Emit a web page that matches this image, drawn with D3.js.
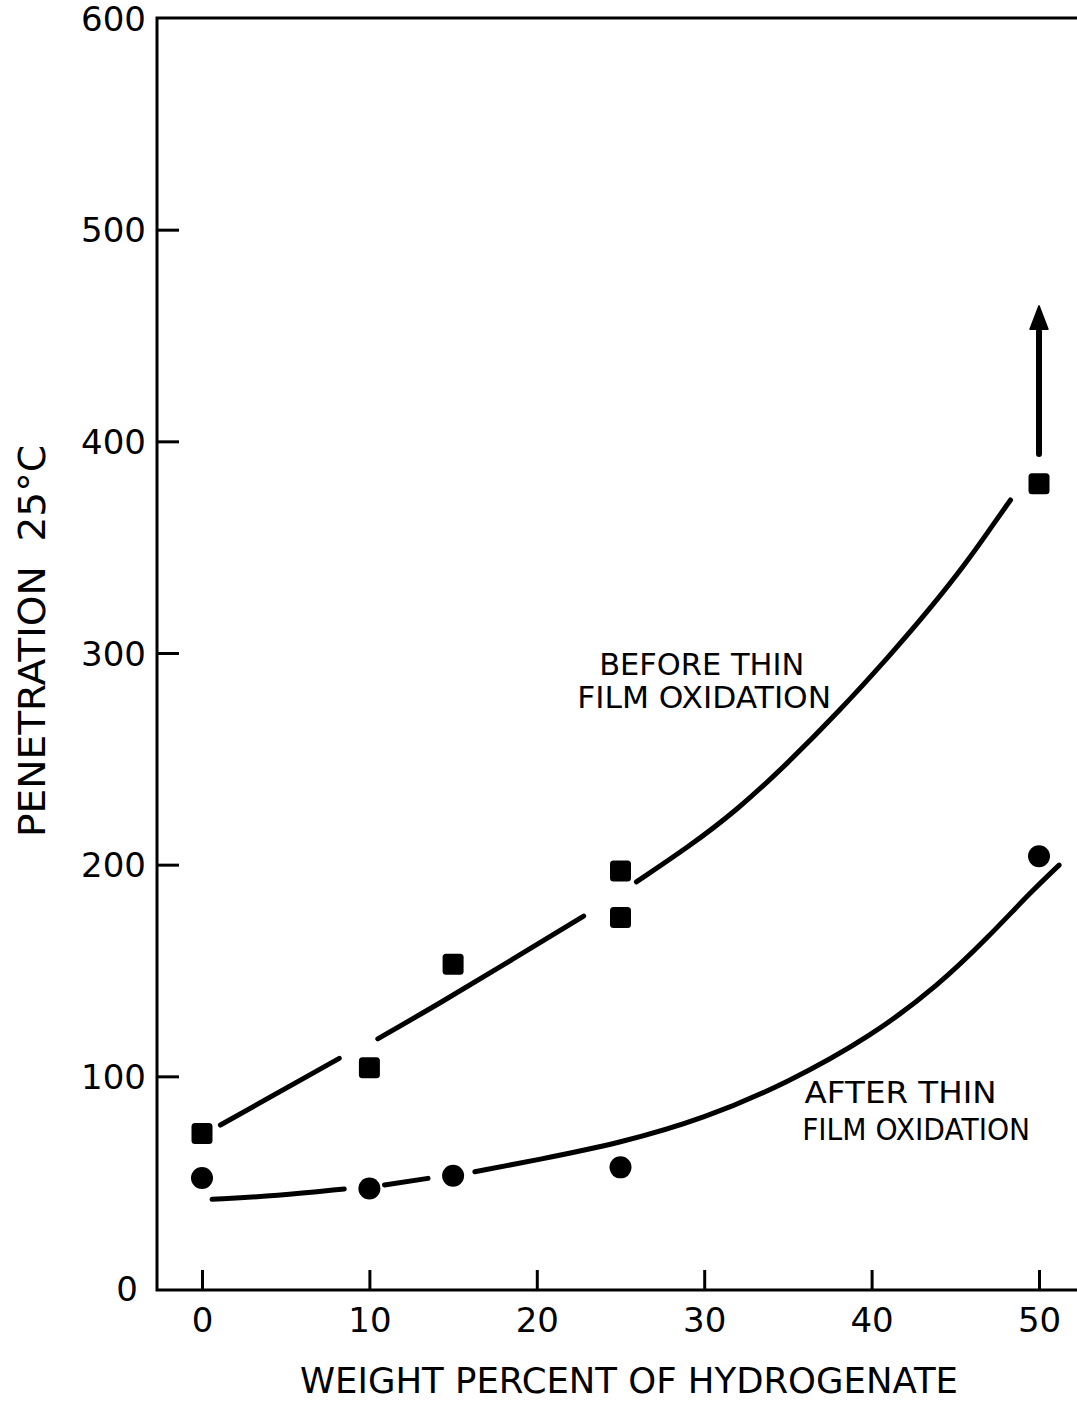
<!DOCTYPE html>
<html>
<head>
<meta charset="utf-8">
<script src="https://cdn.jsdelivr.net/npm/d3@7"></script>
<style>
  html, body { margin: 0; padding: 0; background: #fff; }
  svg { display: block; }
  text { font-family: "DejaVu Sans", sans-serif; fill: #000; }
</style>
</head>
<body>
<svg id="chart" width="1077" height="1403"></svg>
<script>
// Penetration at 25 °C versus hydrogenate content
const xTicks = [0, 10, 20, 30, 40, 50];
const yTicks = [0, 100, 200, 300, 400, 500, 600];

// measured points, before thin film oxidation (squares)
const beforePct = [0, 10, 15, 25, 25, 50];
const beforePen = [73, 104, 153, 197, 175, 380];

// measured points, after thin film oxidation (circles)
const afterPct = [0, 10, 15, 25, 50];
const afterPen = [52, 47, 53, 57, 204];

// hand-fitted trend curves, drawn in pieces with the pen lifted near the markers
const beforeFit = [
  [[1.1, 77], [8.2, 108.5]],
  [[10.5, 117.7], [14.2, 134.5], [18.5, 155], [22.8, 175.7]],
  [[25.95, 191.9], [29, 208], [32, 226], [35, 248], [38, 272], [41, 298], [43.5, 321], [45.7, 343], [47.2, 360], [48.3, 372.3]]
];
const afterFit = [
  [[0.6, 41.9], [4.5, 43.5], [8.5, 46.8]],
  [[10.9, 48.7], [13.5, 51.8]],
  [[16.3, 54.9], [20, 60.5], [25, 68.5], [30, 80], [35, 97], [40, 119], [44, 143], [47, 166], [49.5, 187], [51.2, 199.8]]
];

// the 50 % sample was beyond the scale: arrow upward from the plotted value
const arrowPct = 50;
const arrowFrom = 394;
const arrowTo = 464;

const svg = d3.select("#chart");

const x = d3.scaleLinear().domain([0, 50]).range([202, 1039]);
const y = d3.scaleLinear().domain([0, 600]).range([1288, 18]);

const frameLeft = 157, frameRight = 1077, frameBottom = y(0) + 2, frameTop = y(600);

// frame: left, top and bottom lines (open on the right)
svg.append("path")
  .attr("d", `M${frameRight},${frameTop}H${frameLeft}V${frameBottom}H${frameRight}`)
  .attr("fill", "none").attr("stroke", "#000").attr("stroke-width", 3);

// x axis ticks and labels
const xAxis = d3.axisBottom(x).tickValues(xTicks).tickSizeInner(-20).tickSizeOuter(0).tickPadding(18);
const gx = svg.append("g").attr("transform", `translate(0,${frameBottom})`).call(xAxis);
gx.select(".domain").remove();
gx.selectAll(".tick line").attr("stroke", "#000").attr("stroke-width", 3);
gx.selectAll(".tick text").attr("font-size", 34).attr("font-family", "DejaVu Sans").attr("fill", "#000");

// y axis ticks and labels
const yAxis = d3.axisLeft(y).tickValues(yTicks).tickSizeInner(-22).tickSizeOuter(0).tickPadding(11);
const gy = svg.append("g").attr("transform", `translate(${frameLeft},0)`).call(yAxis);
gy.select(".domain").remove();
gy.selectAll(".tick line").attr("stroke", "#000").attr("stroke-width", 3)
  .attr("display", d => (d === 0 || d === 600) ? "none" : null);
gy.selectAll(".tick text").attr("font-size", 34).attr("font-family", "DejaVu Sans").attr("fill", "#000")
  .attr("dy", "0.36em")
  .attr("dx", d => d === 0 ? -8 : 0);

// axis titles
svg.append("text")
  .attr("x", 300).attr("y", 1393)
  .attr("font-size", 36)
  .attr("textLength", 658).attr("lengthAdjust", "spacingAndGlyphs")
  .text("WEIGHT PERCENT OF HYDROGENATE");

svg.append("text")
  .attr("transform", "translate(45,837) rotate(-90)")
  .attr("font-size", 38)
  .attr("textLength", 392).attr("lengthAdjust", "spacingAndGlyphs")
  .attr("xml:space", "preserve")
  .text("PENETRATION  25°C");

// trend curves
const line = d3.line().x(d => x(d[0])).y(d => y(d[1])).curve(d3.curveBasis);
const curves = svg.append("g").attr("fill", "none").attr("stroke", "#000")
  .attr("stroke-width", 5).attr("stroke-linecap", "round");
curves.selectAll("path.before").data(beforeFit).join("path").attr("class", "before").attr("d", line);
curves.selectAll("path.after").data(afterFit).join("path").attr("class", "after").attr("d", line);

// markers
const side = 21;
svg.append("g").selectAll("rect")
  .data(beforePct.map((p, i) => [p, beforePen[i]]))
  .join("rect")
  .attr("x", d => x(d[0]) - side / 2).attr("y", d => y(d[1]) - side / 2)
  .attr("width", side).attr("height", side).attr("rx", 3.5)
  .attr("fill", "#000");

svg.append("g").selectAll("circle")
  .data(afterPct.map((p, i) => [p, afterPen[i]]))
  .join("circle")
  .attr("cx", d => x(d[0])).attr("cy", d => y(d[1])).attr("r", 11)
  .attr("fill", "#000");

// arrow
const headBase = arrowTo - 11;
svg.append("line")
  .attr("x1", x(arrowPct)).attr("x2", x(arrowPct))
  .attr("y1", y(arrowFrom)).attr("y2", y(headBase) + 2)
  .attr("stroke", "#000").attr("stroke-width", 6).attr("stroke-linecap", "round");
svg.append("path")
  .attr("d", `M${x(arrowPct)},${y(arrowTo)}L${x(arrowPct) + 9},${y(headBase)}L${x(arrowPct) - 9},${y(headBase)}Z`)
  .attr("fill", "#000").attr("stroke", "#000").attr("stroke-width", 1.5).attr("stroke-linejoin", "round");

// curve annotations
const note = (px, py, str, len, anchor) => svg.append("text")
  .attr("x", px).attr("y", py).attr("font-size", 31)
  .attr("text-anchor", anchor)
  .attr("textLength", len).attr("lengthAdjust", "spacingAndGlyphs")
  .text(str);

note(x(29.85), y(289.6), "BEFORE THIN", 205, "middle");
note(x(30.0), y(274), "FILM OXIDATION", 254, "middle");
note(x(36.0), y(87.4), "AFTER THIN", 192, "start");
note(x(35.85), y(69.9), "FILM OXIDATION", 228, "start");
</script>
</body>
</html>
